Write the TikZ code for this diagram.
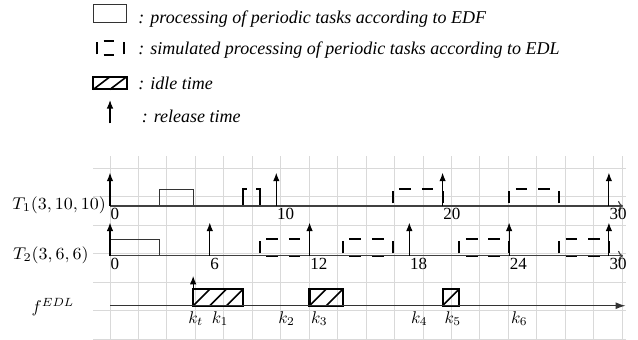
\documentclass[tikz,border=0pt]{standalone}
\usepackage{fontspec}
\setmainfont{Liberation Serif}
\usetikzlibrary{arrows.meta}
\newcommand{\edlbox}[2]{%
  \draw[edlline] (#1,#2+0.15) -- (#1,#2+0.9);
  \draw[edlline] (#1+3,#2+0.15) -- (#1+3,#2+0.9);
  \draw[edlline] (#1+0.4,#2+1) -- (#1+1.1,#2+1);
  \draw[edlline] (#1+1.75,#2+1) -- (#1+2.45,#2+1);
  \draw[edlline] (#1+0.4,#2) -- (#1+1.1,#2);
  \draw[edlline] (#1+1.75,#2) -- (#1+2.45,#2);
}
\newcommand{\idlecells}[3]{% start, end, base
  \draw[idlebox] (#1,#3) rectangle (#2,#3+1);
  \foreach \c in {#1,...,\numexpr#2-1\relax} {\draw[hatch] (\c,#3) -- (\c+1,#3+1);}
}
\begin{document}
\begin{tikzpicture}[x=16.63pt,y=16.63pt,
  gridline/.style={draw=gray!30, line width=0.9pt},
  taxis/.style={draw=black!75, line width=1.1pt, -{To[length=5pt,width=10pt]}},
  faxis/.style={draw=black!80, line width=1.2pt, -{Latex[length=10pt,width=7pt]}},
  release/.style={line width=1.1pt, -{Latex[length=8.5pt,width=6.5pt]}},
  edfbox/.style={draw=black!80, line width=1.2pt},
  edlline/.style={line width=1.8pt},
  idlebox/.style={draw, line width=2.2pt},
  hatch/.style={line width=1.6pt},
  legtext/.style={font=\fontsize{18}{21}\selectfont\itshape, anchor=base west, inner sep=0pt},
  ticklbl/.style={font=\fontsize{17}{20}\selectfont, anchor=north west, inner sep=0pt},
  mathlbl/.style={inner sep=0pt, scale=1.7},
  tasklbl/.style={inner sep=0pt, xscale=1.8, yscale=1.7, anchor=west},
]
\useasboundingbox (-6.615,-0.06) rectangle (31.75,20.385);

% grid
\draw[gridline] (-1,0) grid (31,11);

% ---------- legend ----------
\draw[edfbox] (-1,19.02) rectangle (1,20.13);
\node[legtext] (l1) at (1.7,19.0) {: processing of periodic tasks according to EDF};

\draw[edlline] (-0.8,17.12) -- (-0.8,17.88);
\draw[edlline] (0.86,17.12) -- (0.86,17.88);
\draw[edlline] (-0.38,17.9) -- (0.24,17.9);
\draw[edlline] (-0.38,17.1) -- (0.24,17.1);
\node[legtext] (l2) at (1.7,17.08) {: simulated processing of periodic tasks according to EDL};

\draw[idlebox] (-1,15.01) rectangle (1,15.77);
\draw[hatch] (-1,15.01) -- (0,15.77) (0,15.01) -- (1,15.77);
\node[legtext] (l3) at (1.7,15.0) {: idle time};

\coordinate (la) at (0,12.97);
\coordinate (lb) at (0,14.37);
\draw[release] (la) -- (lb);
\node[legtext] (l4) at (1.9,13.03) {: release time};

% ---------- T1 ----------
\node[tasklbl] (lt1) at (-5.9,8.06) {$T_1(3,10,10)$};
\draw[edfbox] (3,8) rectangle (5,9);
% bracket box [8,9]
\draw[edlline] (8.25,8) -- (8,8) -- (8,9) -- (8.25,9);
\draw[edlline] (8.75,8) -- (9,8) -- (9,9) -- (8.75,9);
\edlbox{17}{8}
\edlbox{24}{8}
\coordinate (o1) at (0,8);
\coordinate (e1) at (30.85,8);
\draw[taxis] (o1) -- (e1);
\foreach \t in {0,10,20,30} {
  \coordinate (r1b\t) at (\t,8);
  \coordinate (r1t\t) at (\t,10);
  \draw[release] (r1b\t) -- (r1t\t);
  \node[ticklbl] (n1\t) at (\t+0.03,7.85) {\t};
}

% ---------- T2 ----------
\node[tasklbl] (lt2) at (-5.85,5.06) {$T_2(3,6,6)$};
\draw[edfbox] (0,5) rectangle (3,6);
\edlbox{9}{5}
\edlbox{14}{5}
\edlbox{21}{5}
\edlbox{27}{5}
\coordinate (o2) at (0,5);
\coordinate (e2) at (30.85,5);
\draw[taxis] (o2) -- (e2);
\foreach \t in {0,6,12,18,24,30} {
  \coordinate (r2b\t) at (\t,5);
  \coordinate (r2t\t) at (\t,7);
  \draw[release] (r2b\t) -- (r2t\t);
  \node[ticklbl] (n2\t) at (\t+0.03,4.85) {\t};
}

% ---------- f^EDL ----------
\node[mathlbl] (lf) at (-3.43,1.92) {$f^{EDL}$};
\idlecells{5}{8}{2}
\idlecells{12}{14}{2}
\idlecells{20}{21}{2}
\coordinate (o3) at (0,2);
\coordinate (e3) at (31,2);
\draw[faxis] (o3) -- (e3);
\coordinate (kb) at (5,3);
\coordinate (kt) at (5,3.8);
\draw[release] (kb) -- (kt);
\node[mathlbl, anchor=base west] (k0) at (4.69,0.95) {$k_t$};
\node[mathlbl, anchor=base west] (k1) at (6.1,0.95) {$k_1$};
\node[mathlbl, anchor=base west] (k2) at (10.1,0.95) {$k_2$};
\node[mathlbl, anchor=base west] (k3) at (12.07,0.95) {$k_3$};
\node[mathlbl, anchor=base west] (k4) at (18.08,0.95) {$k_4$};
\node[mathlbl, anchor=base west] (k5) at (20.1,0.95) {$k_5$};
\node[mathlbl, anchor=base west] (k6) at (24.1,0.95) {$k_6$};
\end{tikzpicture}
\end{document}
